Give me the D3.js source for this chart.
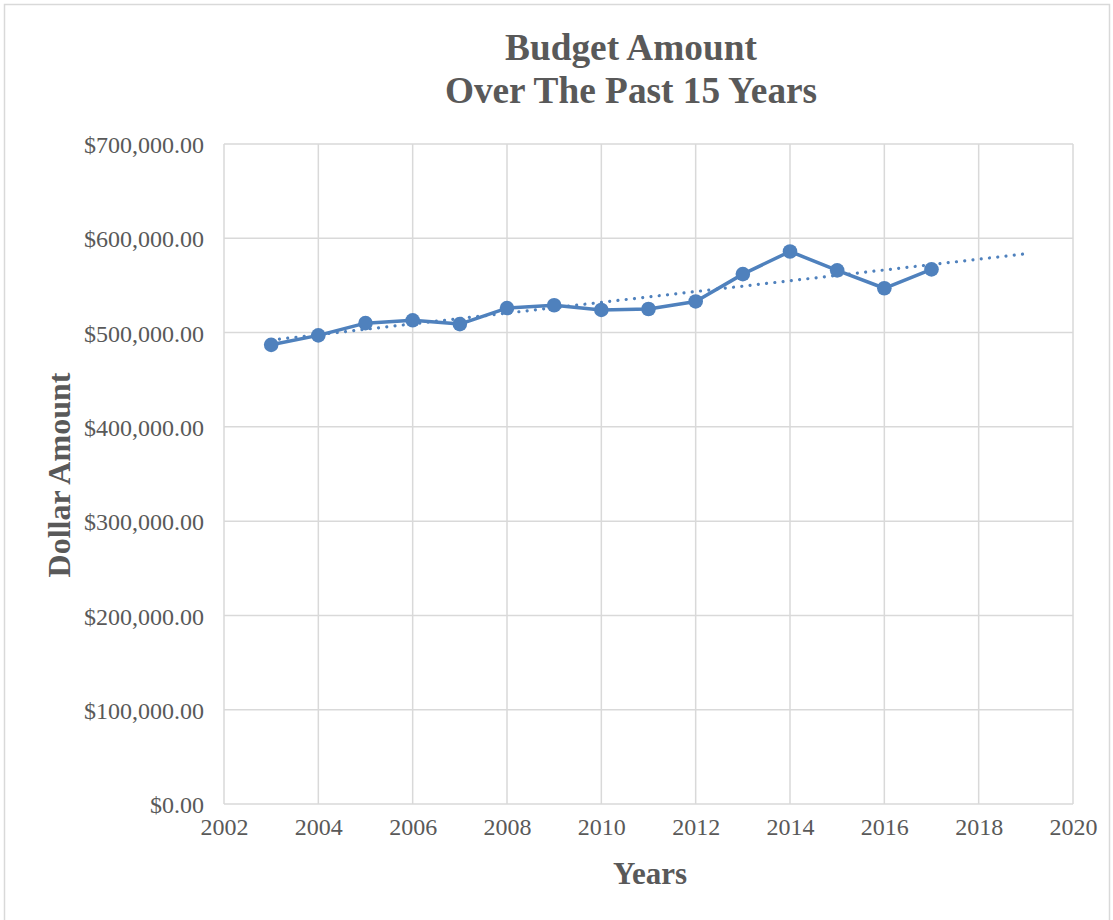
<!DOCTYPE html>
<html>
<head>
<meta charset="utf-8">
<script src="https://cdn.jsdelivr.net/npm/d3@7"></script>
<style>
  html, body { margin: 0; padding: 0; background: #fff; }
  svg { display: block; }
</style>
</head>
<body>
<svg id="chart" width="1113" height="920"></svg>
<script>
// Annual budget figures, 2003–2017
const years = [2003, 2004, 2005, 2006, 2007, 2008, 2009, 2010, 2011, 2012, 2013, 2014, 2015, 2016, 2017];
const budget = [487000, 497000, 510000, 513000, 509000, 526000, 529000, 524000, 525000, 533000, 562000, 586000, 566000, 547000, 567000];

const xTicks = [2002, 2004, 2006, 2008, 2010, 2012, 2014, 2016, 2018, 2020];
const yTicks = [0, 100000, 200000, 300000, 400000, 500000, 600000, 700000];

const titleLines = ["Budget Amount", "Over The Past 15 Years"];
const xTitle = "Years";
const yTitle = "Dollar Amount";

// Linear trendline extended two periods forward
const trendForward = 2;

const W = 1113, H = 920;
const plot = { left: 224, right: 1073, top: 144, bottom: 804 };
const blue = "#4f81bd";
const grid = "#d9d9d9";
const textGray = "#595959";
const serif = "'Liberation Serif', 'Times New Roman', serif";

const svg = d3.select("#chart");

// chart frame
svg.append("rect")
  .attr("x", 4.5).attr("y", 4.5)
  .attr("width", 1105).attr("height", 930)
  .attr("fill", "#fff").attr("stroke", grid).attr("stroke-width", 1.5);

const x = d3.scaleLinear().domain([2002, 2020]).range([plot.left, plot.right]);
const y = d3.scaleLinear().domain([0, 700000]).range([plot.bottom, plot.top]);

// gridlines
svg.append("g").selectAll("line").data(yTicks).join("line")
  .attr("x1", plot.left).attr("x2", plot.right)
  .attr("y1", d => y(d)).attr("y2", d => y(d))
  .attr("stroke", grid).attr("stroke-width", 1.5);
svg.append("g").selectAll("line").data(xTicks).join("line")
  .attr("y1", plot.top).attr("y2", plot.bottom)
  .attr("x1", d => x(d)).attr("x2", d => x(d))
  .attr("stroke", grid).attr("stroke-width", 1.5);

// axes (labels only; lines come from the grid)
const money = d3.format("$,.2f");
const yAxis = svg.append("g")
  .attr("transform", `translate(${plot.left},0)`)
  .call(d3.axisLeft(y).tickValues(yTicks).tickFormat(money).tickSize(0).tickPadding(20));
const xAxis = svg.append("g")
  .attr("transform", `translate(0,${plot.bottom})`)
  .call(d3.axisBottom(x).tickValues(xTicks).tickFormat(d3.format("d")).tickSize(0).tickPadding(14));
[yAxis, xAxis].forEach(g => {
  g.select(".domain").remove();
  g.selectAll("text")
    .attr("fill", textGray)
    .style("font-family", serif)
    .style("font-size", "24px");
});
yAxis.selectAll("text").attr("dy", "0.36em");

// trendline (least squares)
const n = years.length;
const mx = d3.mean(years), my = d3.mean(budget);
const slope = d3.sum(years, (v, i) => (v - mx) * (budget[i] - my)) / d3.sum(years, v => (v - mx) ** 2);
const intercept = my - slope * mx;
const tx0 = years[0], tx1 = years[n - 1] + trendForward;
svg.append("line")
  .attr("x1", x(tx0)).attr("y1", y(intercept + slope * tx0))
  .attr("x2", x(tx1)).attr("y2", y(intercept + slope * tx1))
  .attr("stroke", blue).attr("stroke-width", 3.2)
  .attr("stroke-linecap", "round")
  .attr("stroke-dasharray", "0.01 8.3");

// series line
const pts = years.map((yr, i) => [yr, budget[i]]);
svg.append("path")
  .datum(pts)
  .attr("fill", "none")
  .attr("stroke", blue).attr("stroke-width", 3.5)
  .attr("stroke-linejoin", "round")
  .attr("d", d3.line().x(d => x(d[0])).y(d => y(d[1])));

svg.append("g").selectAll("circle").data(pts).join("circle")
  .attr("cx", d => x(d[0])).attr("cy", d => y(d[1]))
  .attr("r", 7.3).attr("fill", blue);

// titles
svg.append("text")
  .attr("x", 631).attr("text-anchor", "middle")
  .attr("fill", textGray)
  .style("font-family", serif).style("font-weight", "bold").style("font-size", "37.3px")
  .selectAll("tspan").data(titleLines).join("tspan")
  .attr("x", 631).attr("y", (d, i) => 60 + i * 43).text(d => d);

svg.append("text")
  .attr("x", 650).attr("y", 884).attr("text-anchor", "middle")
  .attr("fill", textGray)
  .style("font-family", serif).style("font-weight", "bold").style("font-size", "31px")
  .text(xTitle);

svg.append("text")
  .attr("transform", "translate(70,475) rotate(-90)")
  .attr("text-anchor", "middle")
  .attr("fill", textGray)
  .style("font-family", serif).style("font-weight", "bold").style("font-size", "32px")
  .text(yTitle);
</script>
</body>
</html>
